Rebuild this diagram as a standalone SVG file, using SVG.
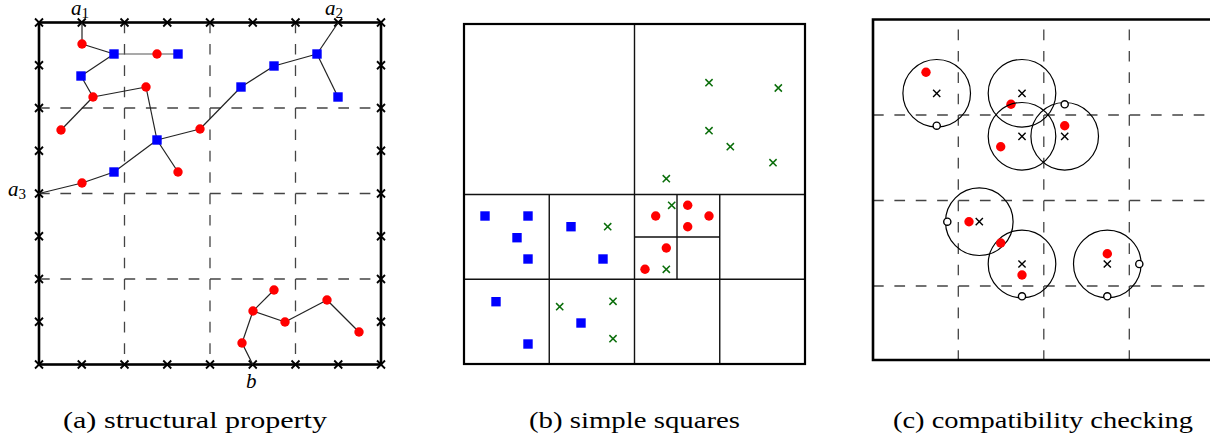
<svg xmlns="http://www.w3.org/2000/svg" xmlns:xlink="http://www.w3.org/1999/xlink" width="1210" height="440" viewBox="0 0 1210 440">
<style>
.frame{fill:none;stroke:#000;stroke-width:2.6}
.grid{fill:none;stroke:#444;stroke-width:1.3;stroke-dasharray:10.69 10.69}
.edge{fill:none;stroke:#222;stroke-width:1.2}
.part{fill:none;stroke:#111;stroke-width:1.4}
.tick{stroke:#000;stroke-width:1.8;fill:none}
.gx{stroke:#0b6e0b;stroke-width:1.5;fill:none}
.bx{stroke:#000;stroke-width:1.4;fill:none}
.red{fill:#f00}
.blue{fill:#00f}
.ring{fill:none;stroke:#000;stroke-width:1.2}
.open{fill:#fff;stroke:#000;stroke-width:1.4}
.lbl{font-family:"Liberation Serif","DejaVu Serif",serif;font-style:italic;font-size:21px;fill:#000}
.sub{font-style:normal;font-size:15px}
.cap{font-family:"Liberation Serif","DejaVu Serif",serif;font-size:24px;fill:#000}
</style>
<defs>
<path id="x" d="M-4,-4L4,4M-4,4L4,-4"/>
<path id="xs" d="M-3.6,-3.6L3.6,3.6M-3.6,3.6L3.6,-3.6"/>
<circle id="rd" r="4.7"/>
<rect id="sq" x="-4.7" y="-4.7" width="9.4" height="9.4"/>
</defs>

<!-- Panel (a) -->
<g id="panel-a">
<g id="a-grid">
<path class="grid" d="M124.5,22.5V364.5M210,22.5V364.5M295.5,22.5V364.5M39,108H381M39,193.5H381M39,279H381"/>
</g>
<g id="a-frame">
<rect class="frame" x="39" y="22.5" width="342" height="342"/>
</g>
<g id="a-ticks" class="tick">
<use href="#x" x="39" y="22.5"/><use href="#x" x="81.75" y="22.5"/><use href="#x" x="124.5" y="22.5"/><use href="#x" x="167.25" y="22.5"/><use href="#x" x="210" y="22.5"/><use href="#x" x="252.75" y="22.5"/><use href="#x" x="295.5" y="22.5"/><use href="#x" x="338.25" y="22.5"/><use href="#x" x="381" y="22.5"/>
<use href="#x" x="39" y="364.5"/><use href="#x" x="81.75" y="364.5"/><use href="#x" x="124.5" y="364.5"/><use href="#x" x="167.25" y="364.5"/><use href="#x" x="210" y="364.5"/><use href="#x" x="252.75" y="364.5"/><use href="#x" x="295.5" y="364.5"/><use href="#x" x="338.25" y="364.5"/><use href="#x" x="381" y="364.5"/>
<use href="#x" x="39" y="65.25"/><use href="#x" x="39" y="108"/><use href="#x" x="39" y="150.75"/><use href="#x" x="39" y="193.5"/><use href="#x" x="39" y="236.25"/><use href="#x" x="39" y="279"/><use href="#x" x="39" y="321.75"/>
<use href="#x" x="381" y="65.25"/><use href="#x" x="381" y="108"/><use href="#x" x="381" y="150.75"/><use href="#x" x="381" y="193.5"/><use href="#x" x="381" y="236.25"/><use href="#x" x="381" y="279"/><use href="#x" x="381" y="321.75"/>
</g>
<g id="a-connectors" class="edge">
<path d="M82,22.5L82,44"/>
<path d="M82,44L114,54"/>
<path d="M114,54L157,54L178,54" style="stroke:#555"/>
<path d="M114,54L81,76"/>
<path d="M81,76L93,97"/>
<path d="M93,97L146,87"/>
<path d="M93,97L61,130"/>
<path d="M146,87L157,140"/>
<path d="M157,140L178,172"/>
<path d="M157,140L200,129"/>
<path d="M157,140L114,172"/>
<path d="M114,172L82,183"/>
<path d="M82,183L39,193.5"/>
<path d="M200,129L241,87"/>
<path d="M241,87L274,66"/>
<path d="M274,66L317,54"/>
<path d="M317,54L338.25,22.5"/>
<path d="M317,54L338,97"/>
<path d="M252.75,364.5L242,343"/>
<path d="M242,343L253,311"/>
<path d="M253,311L274,290"/>
<path d="M253,311L285,322"/>
<path d="M285,322L327,300"/>
<path d="M327,300L359,332"/>
</g>
<g id="a-n1" class="red"><use href="#rd" x="82" y="44"/></g>
<g id="a-n2" class="blue"><use href="#sq" x="114" y="54"/></g>
<g id="a-n3" class="red"><use href="#rd" x="157" y="54"/></g>
<g id="a-n4" class="blue"><use href="#sq" x="178" y="54"/></g>
<g id="a-n5" class="blue"><use href="#sq" x="81" y="76"/></g>
<g id="a-n6" class="red"><use href="#rd" x="93" y="97"/></g>
<g id="a-n7" class="red"><use href="#rd" x="146" y="87"/></g>
<g id="a-n8" class="red"><use href="#rd" x="61" y="130"/></g>
<g id="a-n9" class="blue"><use href="#sq" x="157" y="140"/></g>
<g id="a-n10" class="red"><use href="#rd" x="178" y="172"/></g>
<g id="a-n11" class="red"><use href="#rd" x="200" y="129"/></g>
<g id="a-n12" class="blue"><use href="#sq" x="114" y="172"/></g>
<g id="a-n13" class="red"><use href="#rd" x="82" y="183"/></g>
<g id="a-n14" class="blue"><use href="#sq" x="241" y="87"/></g>
<g id="a-n15" class="blue"><use href="#sq" x="274" y="66"/></g>
<g id="a-n16" class="blue"><use href="#sq" x="317" y="54"/></g>
<g id="a-n17" class="blue"><use href="#sq" x="338" y="97"/></g>
<g id="a-n18" class="red"><use href="#rd" x="274" y="290"/></g>
<g id="a-n19" class="red"><use href="#rd" x="253" y="311"/></g>
<g id="a-n20" class="red"><use href="#rd" x="285" y="322"/></g>
<g id="a-n21" class="red"><use href="#rd" x="327" y="300"/></g>
<g id="a-n22" class="red"><use href="#rd" x="359" y="332"/></g>
<g id="a-n23" class="red"><use href="#rd" x="242" y="343"/></g>
<g id="a-labels">
<text class="lbl" font-family="Liberation Serif, serif" x="71" y="15">a<tspan class="sub" dy="3">1</tspan></text>
<text class="lbl" font-family="Liberation Serif, serif" x="325" y="15">a<tspan class="sub" dy="3">2</tspan></text>
<text class="lbl" font-family="Liberation Serif, serif" x="8" y="196">a<tspan class="sub" dy="3">3</tspan></text>
<text class="lbl" font-family="Liberation Serif, serif" x="246" y="388">b</text>
</g>
</g>

<!-- Panel (b) -->
<g id="panel-b">
<g id="b-partition">
<path class="part" d="M634.5,24V364M464,194.5H805M549.25,194.5V364M464,279.25H805M719.75,194.5V364M677,194.5V279.25M634.5,237H719.75"/>
<rect class="frame" style="stroke-width:2.2" x="464" y="24" width="341" height="340"/>
</g>
<g id="b-crosses" class="gx">
<use href="#xs" x="709" y="82.7"/><use href="#xs" x="778.3" y="88"/><use href="#xs" x="709" y="130.7"/><use href="#xs" x="730.3" y="146.7"/><use href="#xs" x="773" y="162.7"/><use href="#xs" x="666.3" y="178.7"/><use href="#xs" x="671.7" y="205.3"/><use href="#xs" x="607.7" y="226.7"/><use href="#xs" x="666.3" y="269.3"/><use href="#xs" x="559.7" y="306.7"/><use href="#xs" x="613" y="301.3"/><use href="#xs" x="613" y="338.7"/>
</g>
<g id="b-squares" class="blue">
<use href="#sq" x="485" y="216"/><use href="#sq" x="528" y="216"/><use href="#sq" x="517" y="237.7"/><use href="#sq" x="528" y="259"/><use href="#sq" x="571" y="226.7"/><use href="#sq" x="603" y="259"/><use href="#sq" x="496" y="301.7"/><use href="#sq" x="581" y="323"/><use href="#sq" x="528" y="344"/>
</g>
<g id="b-dots" class="red">
<use href="#rd" x="655.7" y="216"/><use href="#rd" x="687.7" y="205.3"/><use href="#rd" x="709" y="216"/><use href="#rd" x="687.7" y="226.7"/><use href="#rd" x="666.3" y="248"/><use href="#rd" x="645" y="269.3"/>
</g>
</g>

<!-- Panel (c) -->
<g id="panel-c">
<g id="c-grid">
<path class="grid" d="M958.3,29.5V359M1043.8,29.5V359M1129.3,29.5V359M873,115H1212M873,200.5H1212M873,286H1212"/>
</g>
<g id="c-frame">
<path class="frame" d="M1214,19.5H873V360H1214"/>
</g>
<g id="c-node1"><circle class="ring" cx="936.7" cy="93.3" r="33.8"/><use class="bx" href="#xs" x="936.7" y="93.3"/><use class="red" href="#rd" x="926" y="72.3"/><circle class="open" cx="936.7" cy="125.7" r="3.6"/></g>
<g id="c-node2"><circle class="ring" cx="1022" cy="93.3" r="33.8"/><use class="bx" href="#xs" x="1022" y="93.3"/><use class="red" href="#rd" x="1011" y="104.3"/></g>
<g id="c-node3"><circle class="ring" cx="1022" cy="136.3" r="33.8"/><use class="bx" href="#xs" x="1022" y="136.3"/><use class="red" href="#rd" x="1000.7" y="146.7"/></g>
<g id="c-node4"><circle class="ring" cx="1064.7" cy="136.3" r="33.8"/><use class="bx" href="#xs" x="1064.7" y="136.3"/><use class="red" href="#rd" x="1064.7" y="125.7"/><circle class="open" cx="1064.7" cy="104.3" r="3.6"/></g>
<g id="c-node5"><circle class="ring" cx="979.3" cy="221.7" r="33.8"/><use class="bx" href="#xs" x="979.3" y="221.7"/><use class="red" href="#rd" x="969" y="221.7"/><circle class="open" cx="947.3" cy="221.7" r="3.6"/></g>
<g id="c-node6"><circle class="ring" cx="1022" cy="264" r="33.8"/><use class="bx" href="#xs" x="1022" y="264"/><use class="red" href="#rd" x="1022" y="275"/><use class="red" href="#rd" x="1000.7" y="243"/><circle class="open" cx="1022" cy="296.3" r="3.6"/></g>
<g id="c-node7"><circle class="ring" cx="1107.3" cy="264" r="33.8"/><use class="bx" href="#xs" x="1107.3" y="264"/><use class="red" href="#rd" x="1107.3" y="253.7"/><circle class="open" cx="1139.3" cy="264" r="3.6"/><circle class="open" cx="1107.3" cy="296.3" r="3.6"/></g>
</g>

<!-- Captions -->
<g id="captions">
<text class="cap" font-family="Liberation Serif, serif" x="63" y="428" textLength="264" lengthAdjust="spacingAndGlyphs">(a) structural property</text>
<text class="cap" font-family="Liberation Serif, serif" x="529" y="428" textLength="211" lengthAdjust="spacingAndGlyphs">(b) simple squares</text>
<text class="cap" font-family="Liberation Serif, serif" x="893" y="428" textLength="300" lengthAdjust="spacingAndGlyphs">(c) compatibility checking</text>
</g>
</svg>
